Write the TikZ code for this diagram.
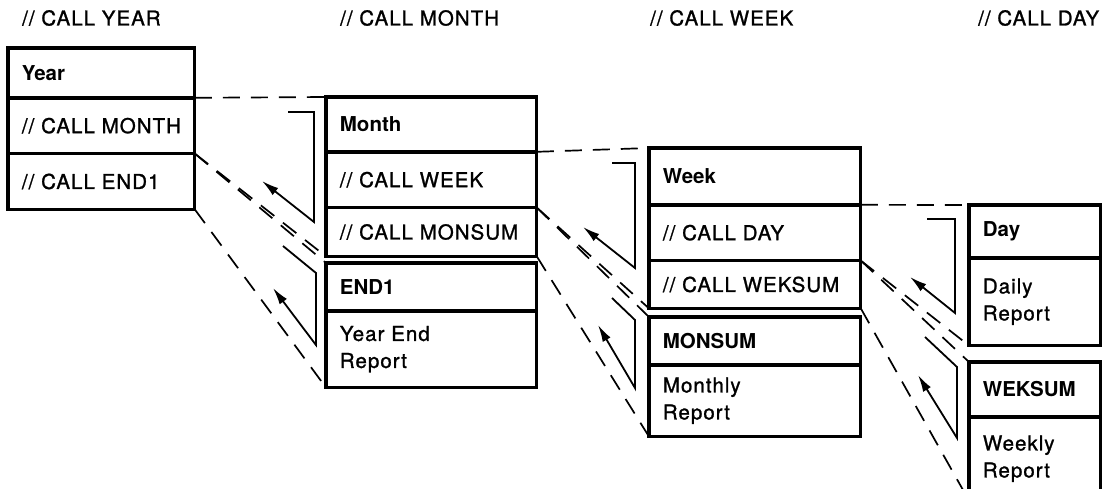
\documentclass[tikz,border=0pt]{standalone}
\usepackage{fontspec}
\setmainfont{TeX Gyre Heros}[LetterSpace=5,FakeBold=1.2,BoldFeatures={LetterSpace=0,FakeBold=0}]
\usetikzlibrary{positioning,arrows.meta}

\tikzset{
  row/.style={draw, rectangle, line width=1.8pt, inner xsep=13pt, inner ysep=0pt,
    text width=#1, align=left, font=\fontsize{20.5}{27}\selectfont},
  frame/.style={draw, line width=3.2pt},
  link/.style={line width=1.7pt, dash pattern=on 17pt off 11pt},
  ret/.style={line width=1.8pt, -{Latex[length=17pt,width=9pt]}},
  call/.style={anchor=west, inner sep=0pt, font=\fontsize{20.5}{24}\selectfont}
}

\begin{document}
\begin{tikzpicture}[x=1pt,y=-1pt]
\useasboundingbox (0,0) rectangle (1113,488);
\clip (0,0) rectangle (1113,488);

% job stream
\node[call] (lyear)  at (22,18)  {// CALL YEAR};
\node[call] (lmonth) at (340,18) {// CALL MONTH};
\node[call] (lweek)  at (650,18) {// CALL WEEK};
\node[call] (lday)   at (978,18) {// CALL DAY};

% Year
\node[row=159pt, minimum height=48pt, anchor=north west] (yhd) at (8,48) {\textbf{Year}};
\node[row=159pt, minimum height=54pt, below=0pt of yhd] (yr2) {\mbox{// CALL MONTH}};
\node[row=159pt, minimum height=54pt, below=0pt of yr2] (yr3) {// CALL END1};
\draw[frame] (yhd.north west) rectangle (yr3.south east);

% Month
\node[row=183pt, minimum height=53pt, anchor=north west] (mhd) at (326,97) {\textbf{Month}};
\node[row=183pt, minimum height=54pt, below=0pt of mhd] (mr2) {// CALL WEEK};
\node[row=183pt, minimum height=47pt, below=0pt of mr2] (mr3) {\mbox{// CALL MONSUM}};
\draw[frame] (mhd.north west) rectangle (mr3.south east);

% END1
\node[row=183pt, minimum height=46pt, anchor=north west] (ehd) at (326,263) {\textbf{END1}};
\node[row=183pt, minimum height=75pt, below=0pt of ehd] (er2) {Year End\\Report};
\draw[frame] (ehd.north west) rectangle (er2.south east);

% Week
\node[row=184pt, minimum height=55pt, anchor=north west] (whd) at (649,148) {\textbf{Week}};
\node[row=184pt, minimum height=54pt, below=0pt of whd] (wr2) {// CALL DAY};
\node[row=184pt, minimum height=46pt, below=0pt of wr2] (wr3) {\mbox{// CALL WEKSUM}};
\draw[frame] (whd.north west) rectangle (wr3.south east);

% MONSUM
\node[row=184pt, minimum height=46pt, anchor=north west] (shd) at (649,317) {\textbf{MONSUM}};
\node[row=184pt, minimum height=70pt, below=0pt of shd] (sr2) {Monthly\\Report};
\draw[frame] (shd.north west) rectangle (sr2.south east);

% Day
\node[row=104pt, minimum height=51pt, anchor=north west] (dhd) at (969,205) {\textbf{Day}};
\node[row=104pt, minimum height=86pt, below=0pt of dhd] (dr2) {Daily\\Report};
\draw[frame] (dhd.north west) rectangle (dr2.south east);

% WEKSUM
\node[row=104pt, minimum height=53pt, anchor=north west] (khd) at (969,362) {\textbf{WEKSUM}};
\node[row=104pt, minimum height=82pt, below=0pt of khd] (kr2) {Weekly\\Report};
\draw[frame] (khd.north west) rectangle (kr2.south east);

% calls
\draw[link] (yr2.north east) -- (mhd.north west);
\draw[link] (yr3.north east) -- (mr3.south west);
\draw[link] (yr3.north east) -- (ehd.north west);
\draw[link] (yr3.south east) -- (er2.south west);

\draw[link] (mr2.north east) -- (whd.north west);
\draw[link] (mr3.north east) -- (wr3.south west);
\draw[link] (mr3.north east) -- (shd.north west);
\draw[link] (mr3.south east) -- (sr2.south west);

\draw[link] (wr2.north east) -- (dhd.north west);
\draw[link] (wr3.north east) -- (dr2.south west);
\draw[link] (wr3.north east) -- (khd.north west);
\draw[link] (wr3.south east) -- (kr2.south west);

% returns
\coordinate (ymS) at (288,112); \coordinate (ymT) at (262,181);
\coordinate (yeS) at (283,246); \coordinate (yeT) at (273,288);
\coordinate (mwS) at (612,163); \coordinate (mwT) at (583,227);
\coordinate (msS) at (612,298); \coordinate (msT) at (598,325);
\coordinate (wdS) at (927,219); \coordinate (wdT) at (910,277);
\coordinate (wkS) at (925,337); \coordinate (wkT) at (918,375);

\draw[ret] (ymS) -| (314,222) -- (ymT);
\draw[ret] (yeS) -- (316,273) -- (316,345) -- (yeT);
\draw[ret] (mwS) -| (635,268) -- (mwT);
\draw[ret] (msS) -- (635,320) -- (635,388) -- (msT);
\draw[ret] (wdS) -| (955,313) -- (wdT);
\draw[ret] (wkS) -- (957,367) -- (957,438) -- (wkT);
\end{tikzpicture}
\end{document}
